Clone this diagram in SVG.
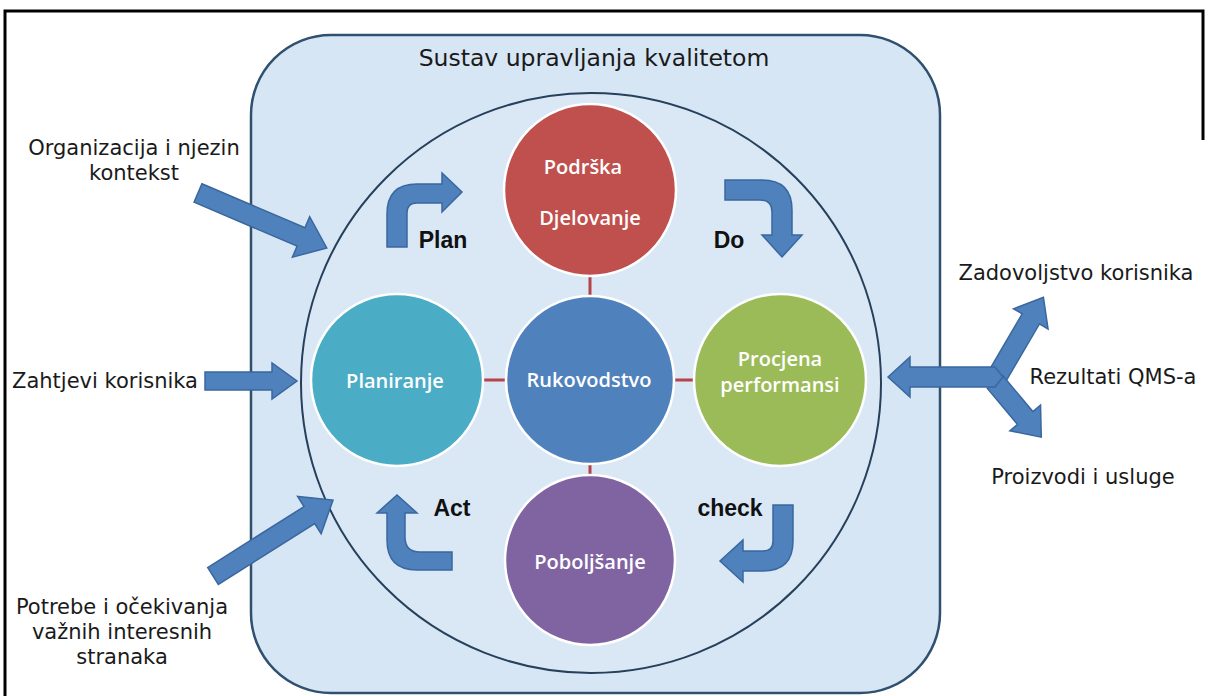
<svg xmlns="http://www.w3.org/2000/svg" width="1208" height="696" viewBox="0 0 1208 696">
<style>
.lbl{font-family:"DejaVu Sans",Verdana,sans-serif;font-size:21px;fill:#1a1a1a;text-anchor:middle}
.ttl{font-family:"DejaVu Sans",Verdana,sans-serif;font-size:23.5px;fill:#1a1a1a;text-anchor:middle}
.cin{font-family:"Open Sans","DejaVu Sans",sans-serif;font-size:20px;font-weight:600;fill:#ffffff;text-anchor:middle}
.pdca{font-family:"Liberation Sans",Arial,sans-serif;font-size:23px;font-weight:bold;fill:#111111;text-anchor:middle}
.arr{fill:#4f81bd;stroke:#3a679e;stroke-width:1.5;stroke-linejoin:miter}
.node{stroke:#ffffff;stroke-width:2.5}
.link{stroke:#b5434a;stroke-width:3}
</style>
<rect width="1208" height="696" fill="#ffffff"/>
<path d="M5,696 V11 H1203 V140" fill="none" stroke="#000000" stroke-width="3"/>
<g id="system">
<rect x="251" y="35" width="689" height="658" rx="80" ry="80" fill="#d7e6f4" stroke="#30506f" stroke-width="2.5"/>
<circle cx="591" cy="383" r="290" fill="#dae8f5" stroke="#26405c" stroke-width="2"/>
<text class="ttl" x="594" y="66">Sustav upravljanja kvalitetom</text>
</g>
<g id="connectors">
<line class="link" x1="590" y1="276" x2="590" y2="297"/>
<line class="link" x1="484" y1="380" x2="507" y2="380"/>
<line class="link" x1="673" y1="380" x2="694" y2="380"/>
<line class="link" x1="590" y1="463" x2="590" y2="476"/>
<path class="arr" d="M0,-10 L112,-10 L112,-22 L140,0 L112,22 L112,10 L0,10 Z" transform="translate(198,193) rotate(23.1)"/>
<path class="arr" d="M205,372 L272,372 L272,363 L297,381 L272,399 L272,390 L205,390 Z"/>
<path class="arr" d="M0,-10 L114,-10 L114,-22 L142,0 L114,22 L114,10 L0,10 Z" transform="translate(213,576) rotate(-32.3)"/>
<path class="arr" d="M0,-10 L65,-10 L65,-20 L90,0 L65,20 L65,10 L0,10 Z" transform="translate(998,375) rotate(-59.7)"/>
<path class="arr" d="M0,-10 L47,-10 L47,-20 L72,0 L47,20 L47,10 L0,10 Z" transform="translate(995,382) rotate(50)"/>
<path class="arr" d="M888,377 L910,357 L910,367 L995,367 L1003,377 L995,387 L910,387 L910,397 Z"/>
<path class="arr" d="M387,247 L387,214 Q387,184 417,184 L442,184 L442,173 L462,192 L442,212 L442,203 L417,203 Q407,203 407,213 L407,247 Z"/>
<path class="arr" d="M725,180 L762,180 Q792,180 792,210 L792,235 L802,235 L782,257 L762,235 L772,235 L772,212 Q772,200 760,200 L725,200 Z"/>
<path class="arr" d="M452,552 L420,552 Q405,552 405,537 L405,513 L417,513 L397,495 L377,513 L387,513 L387,540 Q387,570 417,570 L452,570 Z"/>
<path class="arr" d="M773,505 L793,505 L793,541 Q793,571 763,571 L743,571 L743,582 L720,561 L743,540 L743,551 L763,551 Q773,551 773,541 Z"/>
</g>
<g id="podrska">
<circle class="node" cx="590" cy="190" r="86" fill="#c0504d"/>
<text class="cin" x="583" y="174">Podrška</text>
<text class="cin" x="590" y="225">Djelovanje</text>
</g>
<g id="rukovodstvo">
<circle class="node" cx="590" cy="380" r="84" fill="#4f81bd"/>
<text class="cin" x="589" y="387">Rukovodstvo</text>
</g>
<g id="planiranje">
<circle class="node" cx="397" cy="380" r="86" fill="#4bacc6"/>
<text class="cin" x="395" y="388">Planiranje</text>
</g>
<g id="procjena">
<circle class="node" cx="780" cy="380" r="86" fill="#9bbb59"/>
<text class="cin" x="780" y="366">Procjena</text>
<text class="cin" x="780" y="392">performansi</text>
</g>
<g id="poboljsanje">
<circle class="node" cx="590" cy="560" r="85" fill="#8064a2"/>
<text class="cin" x="590" y="569">Poboljšanje</text>
</g>
<g id="labels">
<text class="pdca" x="443" y="248">Plan</text>
<text class="pdca" x="729" y="248">Do</text>
<text class="pdca" x="452" y="516">Act</text>
<text class="pdca" x="730" y="516">check</text>
<text class="lbl" x="134" y="155">Organizacija i njezin</text>
<text class="lbl" x="134" y="180">kontekst</text>
<text class="lbl" x="105" y="388">Zahtjevi korisnika</text>
<text class="lbl" x="122" y="614">Potrebe i očekivanja</text>
<text class="lbl" x="122" y="639">važnih interesnih</text>
<text class="lbl" x="122" y="664">stranaka</text>
<text class="lbl" x="1076" y="280">Zadovoljstvo korisnika</text>
<text class="lbl" x="1113" y="384">Rezultati QMS-a</text>
<text class="lbl" x="1083" y="484">Proizvodi i usluge</text>
</g>
</svg>
